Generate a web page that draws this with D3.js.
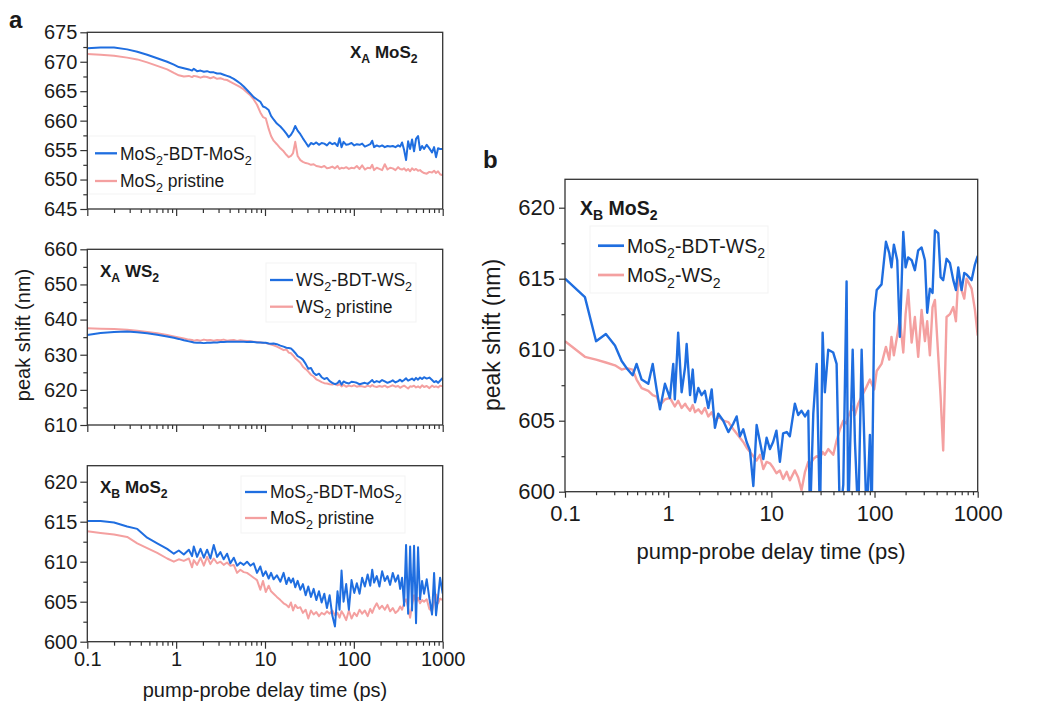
<!DOCTYPE html>
<html><head><meta charset="utf-8">
<script src="https://cdn.jsdelivr.net/npm/d3@7"></script>
<style>body{margin:0;background:#fff;} svg{display:block;}</style>
</head><body><svg id="c" width="1042" height="704"></svg>
<script>
// ---------------- DATA ----------------
const tA = [0.1,0.141,0.2,0.281,0.365,0.472,0.612,0.792,0.942,1.07,1.22,1.39,1.51,1.58,1.72,1.88,2.05,2.23,2.43,2.65,2.89,3.15,3.43,3.74,4.08,4.45,4.85,5.28,5.76,6.28,6.84,7.46,8.13,8.86,9.5,10.2,11,11.7,12.5,13.6,14.9,16.2,17.4,18.5,19.6,20.7,21.9,23.3,25,26.7,28.7,30.7,32.9,35.3,37.8,40.5,43.4,46.5,49.8,53.4,57.2,61.3,65.5,69,72.7,76.6,82,87.9,94.2,101,108,116,124,133,143,153,161,169,181,194,208,223,239,256,274,294,315,332,349,368,387,408,430,452,476,501,528,556,586,617,661,708,759,800,841,887,934,1000];

const a1Blue = [672.3,672.4,672.4,672.1,671.7,671.2,670.6,670.0,669.5,669.1,
668.9,668.7,668.5,668.8,668.4,668.5,668.3,668.4,668.2,668.2,
668.0,668.0,667.8,667.6,667.4,667.1,666.7,666.3,665.8,665.2,
664.6,664.0,663.6,663.2,662.4,662.2,661.8,660.8,660.2,659.5,
659.0,658.4,657.8,657.2,657.6,658.2,659.1,658.3,657.7,657.0,
656.3,655.6,656.2,656.0,656.3,655.9,656.2,656.1,655.8,656.3,
656.0,656.2,655.7,657.0,655.5,656.4,655.9,656.0,656.2,655.8,
656.0,655.9,656.1,655.6,655.8,656.0,656.6,655.5,655.8,655.6,
655.8,655.5,655.7,655.6,655.7,655.5,655.8,655.6,656.3,655.0,
653.3,656.5,655.2,656.8,654.8,656.9,657.4,655.0,655.7,655.2,
655.9,655.3,654.6,655.5,653.8,655.3,655.2,655.2];
const a1Pink = [671.3,671.2,671.0,670.7,670.4,669.9,669.3,668.7,668.1,667.7,
667.5,667.6,667.4,667.6,667.5,667.3,667.5,667.4,667.2,667.4,
667.1,667.2,667.0,666.9,666.6,666.3,666.0,665.7,665.3,664.8,
664.3,663.6,662.7,661.4,660.6,660.4,658.6,657.4,656.6,656.0,
655.3,654.8,654.2,653.8,654.0,654.5,656.4,654.0,653.3,653.0,
652.8,652.7,652.5,652.6,652.3,652.2,652.1,652.3,651.9,652.0,
652.2,651.9,652.3,651.8,652.0,651.9,652.1,651.8,652.0,651.9,
652.3,651.8,652.4,651.7,652.0,651.9,652.5,651.6,652.0,651.8,
651.6,652.6,651.7,652.0,651.9,651.6,652.1,651.8,651.7,651.9,
651.5,651.8,651.4,651.9,651.6,651.8,651.5,651.6,651.3,651.1,
651.0,651.3,651.2,651.5,651.1,651.4,650.9,650.7];

const a2Blue = [635.6,636.2,636.5,636.6,636.4,636.1,635.7,635.2,634.8,634.5,
634.1,633.8,633.6,633.5,633.4,633.4,633.3,633.4,633.4,633.5,
633.5,633.6,633.6,633.7,633.7,633.7,633.7,633.7,633.7,633.6,
633.7,633.6,633.5,633.5,633.4,633.4,633.2,633.1,633.2,633.0,
632.6,632.3,632.0,631.9,631.8,631.2,630.5,629.6,629.2,628.6,
627.4,626.0,626.2,624.8,624.2,624.6,623.6,623.1,623.4,622.5,
622.0,621.6,621.9,622.6,621.5,622.4,622.0,621.8,622.3,622.2,
622.0,621.6,621.8,622.0,621.7,622.3,622.8,622.1,622.5,622.2,
622.8,622.4,622.0,622.3,622.7,622.1,622.5,622.9,622.4,622.8,
623.3,622.6,622.9,623.2,622.7,623.4,622.9,623.5,623.1,623.6,
623.2,623.5,622.8,622.2,622.5,622.0,622.6,623.4];
const a2Pink = [637.5,637.4,637.3,637.1,636.8,636.5,636.1,635.6,635.2,634.9,
634.6,634.3,634.2,634.0,634.2,634.0,634.3,634.1,634.2,634.0,
634.2,634.1,634.3,634.0,634.1,634.2,633.9,634.1,634.0,633.9,
633.8,633.7,633.6,633.5,633.4,633.3,633.1,632.9,632.7,632.3,
631.8,631.3,631.5,630.6,630.4,629.8,629.0,628.4,627.7,626.6,
625.9,625.2,624.3,623.8,623.0,622.6,622.2,621.9,621.8,621.6,
621.5,621.7,621.3,621.6,621.0,621.4,620.9,621.2,621.0,621.3,
620.9,621.1,621.0,620.8,621.2,620.9,621.4,621.0,620.8,621.1,
620.9,621.2,620.7,621.0,621.3,620.9,621.1,620.6,620.9,621.2,
620.8,620.4,621.0,620.9,621.2,620.7,621.0,620.6,621.3,620.8,
621.1,620.5,621.2,620.8,621.0,620.7,621.2,621.0];

const a3Blue = [615.1,615.1,614.9,614.4,614.1,613.0,612.3,611.6,611.0,611.4,
610.9,611.5,610.7,611.9,610.6,611.6,610.5,611.5,610.4,612.1,
610.6,611.2,610.3,611.0,609.8,610.5,609.5,609.9,609.6,610.0,
609.5,609.8,608.6,609.4,608.2,608.8,607.9,608.6,607.8,608.3,
607.5,608.6,607.2,608.0,607.4,607.9,606.8,607.6,606.5,607.2,
605.8,606.9,605.6,606.6,605.2,606.3,604.9,606.0,604.2,605.8,
603.3,601.9,606.3,604.0,608.9,605.0,607.2,604.0,607.7,606.1,
607.3,606.0,608.0,606.9,608.4,607.0,609.0,607.4,608.2,606.9,
608.8,607.6,608.2,607.1,608.6,607.5,608.3,606.6,608.0,604.5,
612.1,603.5,611.9,603.9,612.0,602.3,611.8,605.3,607.6,606.0,
607.8,605.4,603.4,608.6,603.3,605.6,608.0,606.0];
const a3Pink = [613.8,613.6,613.4,613.1,612.3,611.7,611.1,610.4,610.0,610.3,
610.1,610.4,609.3,610.2,609.6,610.5,609.5,610.6,609.7,610.4,
609.8,610.0,609.6,609.9,609.5,609.6,608.6,609.0,608.7,608.6,
608.3,608.0,607.7,606.5,607.6,606.2,607.0,606.3,606.0,605.6,
605.2,604.8,604.6,604.3,604.9,603.9,604.6,604.2,604.3,603.6,
604.0,602.9,603.9,603.4,603.7,603.2,603.6,603.4,603.8,603.5,
603.9,603.3,603.6,603.0,603.8,603.4,602.7,603.9,602.9,603.6,
603.2,604.0,603.5,603.9,603.2,604.1,603.6,604.2,604.8,604.1,
604.5,604.0,604.6,603.8,604.2,603.6,603.9,604.4,604.0,604.9,
605.3,604.2,603.0,604.6,605.8,604.9,605.5,604.8,605.2,605.0,
605.3,604.1,603.8,605.0,605.9,604.8,605.4,605.2];

const tB = [0.1,0.156,0.2,0.249,0.305,0.354,0.396,0.453,0.494,0.553,
0.642,0.708,0.773,0.833,0.931,1.04,1.12,1.16,1.25,1.35,
1.46,1.51,1.63,1.73,1.82,1.96,2.11,2.27,2.45,2.64,
2.84,3.06,3.42,3.83,4.28,4.61,4.96,5.34,5.76,6.21,
6.69,7.2,7.76,8.36,9,9.69,10.4,11.2,12.1,13,
14.1,15.1,16.9,18.2,19.6,21.2,22.8,23.7,25.5,27.5,
29.6,31.4,33,35.6,39.8,42.9,46.2,49.8,53.6,55.6,
61.4,64.6,69.5,75,83.8,90.2,93.7,99.4,105,117,
129,139,146,154,166,176,190,200,212,229,
246,265,286,308,324,344,365,385,415,437,
463,499,538,580,615,648,698,741,780,873,
940,1000];
const bBlue = [615.0,613.7,610.6,611.1,610.3,609.2,608.7,608.2,609.0,607.9,
607.6,609.0,607.2,605.8,607.6,606.6,609.0,606.5,611.2,607.0,
608.8,610.4,606.8,608.6,606.3,607.3,606.8,607.1,605.9,607.2,
604.5,605.5,605.0,604.2,604.8,605.3,603.9,604.4,603.5,602.9,
600.4,604.7,603.5,602.3,603.8,603.0,603.5,604.3,602.1,604.1,
604.2,603.9,606.2,605.4,605.7,605.3,605.7,598,605.5,609.0,
598,611.2,607.0,610.0,609.8,609.0,598,600.5,614.8,598,
610.0,603.5,598,610.0,598,604.0,598,612.6,614.2,614.6,
617.6,616.8,615.8,617.4,616.3,610.9,618.3,615.8,616.5,616.3,
615.6,617.0,617.2,616.3,612.6,614.3,614.0,618.4,618.2,615.1,
614.9,616.4,616.1,614.9,614.2,615.8,614.2,615.4,615.3,614.9,
616.0,616.6];
const bPink = [610.6,609.5,609.3,609.1,608.9,608.6,608.7,608.6,607.9,607.3,
607.1,606.8,606.7,606.1,606.5,606.6,606.2,606.0,606.4,605.9,
606.2,606.0,605.7,606.1,605.6,605.8,605.5,605.9,605.3,605.6,
605.0,605.3,605.0,604.9,604.4,604.1,603.8,603.5,603.1,602.8,
602.5,602.2,602.6,601.6,602.1,602.0,601.7,601.3,601.5,600.9,
601.4,600.8,601.5,601.0,600.1,601.4,602.1,601.9,602.3,602.5,
602.4,602.8,602.6,603.0,602.6,603.6,604.4,605.0,604.8,605.3,
606.0,605.4,606.2,606.7,607.4,607.9,607.6,607.2,608.5,609.0,
610.2,609.3,610.9,609.6,611.0,612.2,609.8,612.5,614.2,610.5,
612.3,609.5,612.8,610.6,612.0,609.6,613.0,613.5,609.5,606.7,
602.9,612.3,612.5,613.0,612.0,615.1,614.2,613.6,615.0,614.3,
612.8,611.0];

const xTicks = [0.1,1,10,100,1000];
const xTickLabels = ["0.1","1","10","100","1000"];
const xMinorTicks = [0.2,0.3,0.4,0.5,0.6,0.7,0.8,0.9,2,3,4,5,6,7,8,9,20,30,40,50,60,70,80,90,200,300,400,500,600,700,800,900];
const yTicksA1 = [645,650,655,660,665,670,675];
const yMinorA1 = [647.5,652.5,657.5,662.5,667.5,672.5];
const yTicksA2 = [610,620,630,640,650,660];
const yMinorA2 = [615,625,635,645,655];
const yTicksB = [600,605,610,615,620];
const yMinorB = [602.5,607.5,612.5,617.5];

// legend / title texts: strings normal, [string] subscript
const legA1 = [["MoS",["2"],"-BDT-MoS",["2"]], ["MoS",["2"]," pristine"]];
const legA2 = [["WS",["2"],"-BDT-WS",["2"]], ["WS",["2"]," pristine"]];
const legA3 = [["MoS",["2"],"-BDT-MoS",["2"]], ["MoS",["2"]," pristine"]];
const legB  = [["MoS",["2"],"-BDT-WS",["2"]], ["MoS",["2"],"-WS",["2"]]];
const titleA1 = ["X",["A"]," MoS",["2"]];
const titleA2 = ["X",["A"]," WS",["2"]];
const titleA3 = ["X",["B"]," MoS",["2"]];
const titleB  = ["X",["B"]," MoS",["2"]];

// ---------------- DRAW ----------------
const FONT = '"Liberation Sans", Arial, Helvetica, sans-serif';
const BLUE = "#1f6ee0", PINK = "#f4a0a0", INK = "#1a1a1a", FRAME = "#333";
const svg = d3.select("#c").attr("font-family", FONT);
const defs = svg.append("defs");

function rich(g, x, y, parts, fs, opts = {}) {
  const t = g.append("text").attr("x", x).attr("y", y).attr("font-size", fs)
    .attr("fill", INK).attr("font-weight", opts.bold ? "bold" : "normal")
    .attr("text-anchor", opts.anchor || "start");
  let shifted = false;
  const off = fs * 0.28;
  parts.forEach(p => {
    const sub = Array.isArray(p);
    const ts = t.append("tspan").text(sub ? p[0] : p);
    if (sub) { ts.attr("font-size", fs * 0.72); if (!shifted) { ts.attr("dy", off); shifted = true; } }
    else if (shifted) { ts.attr("dy", -off); shifted = false; }
  });
  return t;
}

function drawPanel(p) {
  const x = d3.scaleLog().domain([0.1, 1000]).range([p.left, p.right]);
  const y = d3.scaleLinear().domain(p.yDomain).range([p.bottom, p.top]);
  const g = svg.append("g");
  const clipId = "clip-" + p.id;
  defs.append("clipPath").attr("id", clipId).append("rect")
    .attr("x", p.left).attr("y", p.top).attr("width", p.right - p.left).attr("height", p.bottom - p.top);

  // legend box (very faint)
  const lb = p.legendBox;
  g.append("rect").attr("x", lb[0]).attr("y", lb[1]).attr("width", lb[2]).attr("height", lb[3])
    .attr("fill", "#fff").attr("stroke", "#f3f3f3").attr("stroke-width", 1);

  // series: pink under, blue over
  const line = d3.line().x((d, i) => x(p.t[i])).y(d => y(d));
  [[p.pink, PINK], [p.blue, BLUE]].forEach(([vals, col]) => {
    g.append("path").datum(vals).attr("d", line).attr("fill", "none")
      .attr("stroke", col).attr("stroke-width", p.lw).attr("stroke-linejoin", "round")
      .attr("clip-path", `url(#${clipId})`);
  });

  // axes
  const style = sel => {
    sel.select(".domain").remove();
    sel.selectAll("line").attr("stroke", FRAME).attr("stroke-width", 1.2);
    sel.selectAll("text").attr("fill", INK).attr("font-size", p.tickFs).attr("font-family", FONT);
  };
  g.append("g").attr("transform", `translate(0,${p.bottom})`)
    .call(d3.axisBottom(x).tickValues(xTicks).tickSize(p.tickMaj).tickPadding(p.xPad)
      .tickFormat((d, i) => p.xLabels ? xTickLabels[i] : "")).call(style);
  g.append("g").attr("transform", `translate(0,${p.bottom})`)
    .call(d3.axisBottom(x).tickValues(xMinorTicks).tickSize(p.tickMin).tickFormat("")).call(style);
  g.append("g").attr("transform", `translate(${p.left},0)`)
    .call(d3.axisLeft(y).tickValues(p.yTicks).tickSize(p.tickMaj).tickPadding(p.yPad)
      .tickFormat(d3.format("d"))).call(style);
  g.append("g").attr("transform", `translate(${p.left},0)`)
    .call(d3.axisLeft(y).tickValues(p.yMinor).tickSize(p.tickMin).tickFormat("")).call(style);

  // frame
  g.append("rect").attr("x", p.left).attr("y", p.top).attr("width", p.right - p.left)
    .attr("height", p.bottom - p.top).attr("fill", "none").attr("stroke", FRAME).attr("stroke-width", 1.3);

  // legend entries
  const L = p.legend;
  [[BLUE, 0], [PINK, 1]].forEach(([col, k]) => {
    const ry = L.rows[k];
    g.append("line").attr("x1", L.x1).attr("x2", L.x2).attr("y1", ry).attr("y2", ry)
      .attr("stroke", col).attr("stroke-width", p.lw + 0.3);
    rich(g, L.tx, ry + L.fs * 0.37, L.texts[k], L.fs);
  });

  // title
  rich(g, p.title.x, p.title.y, p.title.parts, p.title.fs, { bold: true });
}

const common = { tickMaj: 7, tickMin: 4, tickFs: 20, lw: 2, xPad: 3, yPad: 3 };
drawPanel(Object.assign({}, common, {
  id: "a1", left: 87.3, right: 442.7, top: 32.3, bottom: 209, yDomain: [645, 675],
  yTicks: yTicksA1, yMinor: yMinorA1, xLabels: false, t: tA, blue: a1Blue, pink: a1Pink,
  legendBox: [89, 136, 166, 58],
  legend: { x1: 95, x2: 117, tx: 120, rows: [153.3, 181], fs: 17.5, texts: legA1 },
  title: { x: 350, y: 58, parts: titleA1, fs: 17 }
}));
drawPanel(Object.assign({}, common, {
  id: "a2", left: 87.3, right: 442.7, top: 249.3, bottom: 425, yDomain: [610, 660],
  yTicks: yTicksA2, yMinor: yMinorA2, xLabels: false, t: tA, blue: a2Blue, pink: a2Pink,
  legendBox: [266, 263, 150, 59],
  legend: { x1: 270, x2: 293, tx: 296, rows: [280, 306.7], fs: 17.5, texts: legA2 },
  title: { x: 100, y: 277, parts: titleA2, fs: 17 }
}));
drawPanel(Object.assign({}, common, {
  id: "a3", left: 87.3, right: 442.7, top: 465.7, bottom: 641.7, yDomain: [600, 622],
  yTicks: yTicksB, yMinor: yMinorB, xLabels: true, t: tA, blue: a3Blue, pink: a3Pink,
  legendBox: [241, 476, 164, 57],
  legend: { x1: 245, x2: 267, tx: 270, rows: [492, 518], fs: 17.5, texts: legA3 },
  title: { x: 100, y: 493, parts: titleA3, fs: 17 }
}));
drawPanel(Object.assign({}, common, {
  id: "b", left: 565, right: 977.7, top: 179.3, bottom: 491.7, yDomain: [600, 622],
  yTicks: yTicksB, yMinor: yMinorB, xLabels: true, t: tB, blue: bBlue, pink: bPink,
  tickMaj: 6, tickMin: 3.5, tickFs: 22, lw: 2.4, xPad: 8, yPad: 4,
  legendBox: [590, 226, 178, 67],
  legend: { x1: 598, x2: 624, tx: 627, rows: [245.7, 275], fs: 19.5, texts: legB },
  title: { x: 580, y: 215, parts: titleB, fs: 19.5 }
}));

// axis titles & panel letters
svg.append("text").attr("x", 265).attr("y", 697).attr("text-anchor", "middle")
  .attr("font-size", 20).attr("fill", INK).text("pump-probe delay time (ps)");
svg.append("text").attr("x", 771).attr("y", 559).attr("text-anchor", "middle")
  .attr("font-size", 22).attr("fill", INK).text("pump-probe delay time (ps)");
svg.append("text").attr("transform", "translate(30,335) rotate(-90)").attr("text-anchor", "middle")
  .attr("font-size", 20).attr("fill", INK).text("peak shift (nm)");
svg.append("text").attr("transform", "translate(500,335) rotate(-90)").attr("text-anchor", "middle")
  .attr("font-size", 23).attr("fill", INK).text("peak shift (nm)");
svg.append("text").attr("x", 9).attr("y", 28).attr("font-size", 24).attr("font-weight", "bold")
  .attr("fill", INK).text("a");
svg.append("text").attr("x", 483).attr("y", 168).attr("font-size", 24).attr("font-weight", "bold")
  .attr("fill", INK).text("b");
</script></body></html>
